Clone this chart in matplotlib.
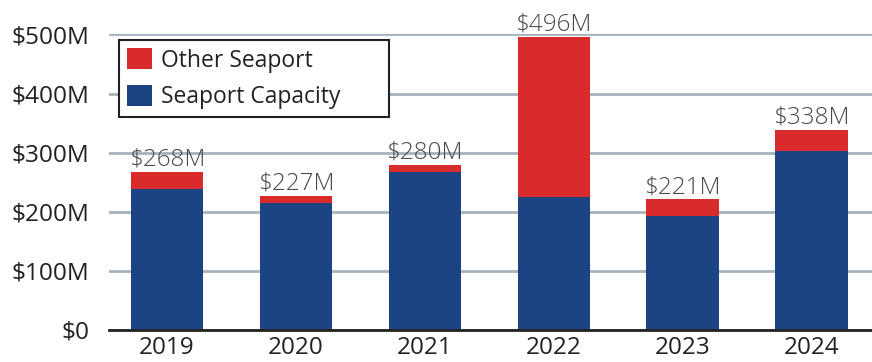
import matplotlib
matplotlib.use("Agg")
import matplotlib.pyplot as plt
from matplotlib.patches import Patch

years = ["2019", "2020", "2021", "2022", "2023", "2024"]
seaport_capacity = [239, 215, 268, 225, 193, 303]
other_seaport = [29, 12, 12, 271, 28, 35]
total_labels = ["$268M", "$227M", "$280M", "$496M", "$221M", "$338M"]
y_ticks = [0, 100, 200, 300, 400, 500]
y_tick_labels = ["$0", "$100M", "$200M", "$300M", "$400M", "$500M"]

BLUE = "#1c4483"
RED = "#d92b2b"
GRID = "#a5b3bf"

plt.rcParams['font.family'] = ['Open Sans', 'DejaVu Sans']

fig = plt.figure(figsize=(8.72, 3.62), dpi=100)
ax = fig.add_axes([0.125, 0.0884, 0.875, 0.8163])

x = list(range(len(years)))
w = 0.56
ax.bar(x, seaport_capacity, width=w, color=BLUE, zorder=3, label="Seaport Capacity")
ax.bar(x, other_seaport, width=w, bottom=seaport_capacity, color=RED, zorder=3, label="Other Seaport")

for i in x:
    top = seaport_capacity[i] + other_seaport[i]
    ax.text(i, top + 0.5, total_labels[i], ha="center", va="bottom", fontsize=17.5,
            color="#4a4a4a", fontweight="light", zorder=4)

ax.set_xlim(-0.45, 5.47)
ax.set_ylim(0, 500)
ax.set_yticks(y_ticks)
ax.set_yticklabels(y_tick_labels)
ax.set_xticks(x)
ax.set_xticklabels(years)
ax.tick_params(axis="y", length=0, pad=14, labelsize=17.6, colors="#222222")
ax.tick_params(axis="x", length=0, pad=4, labelsize=17.5, colors="#222222")
ax.yaxis.grid(True, color=GRID, linewidth=2, zorder=0)
ax.set_axisbelow(True)
for s in ["top", "right", "left"]:
    ax.spines[s].set_visible(False)
ax.spines["bottom"].set_linewidth(2)
ax.spines["bottom"].set_color("#222222")
ax.spines["bottom"].set_zorder(5)

handles = [Patch(facecolor=RED, label="Other Seaport"), Patch(facecolor=BLUE, label="Seaport Capacity")]
leg = ax.legend(handles=handles, loc="upper left", bbox_to_anchor=(0.013, 0.72, 0.354, 0.261),
                mode="expand", fontsize=16.5,
                frameon=True, fancybox=False, edgecolor="#222222", framealpha=1,
                handlelength=1.1, handleheight=1.05, handletextpad=0.4, borderpad=0.35,
                labelspacing=0.53, borderaxespad=0)
leg.get_frame().set_linewidth(1.5)
for t in leg.get_texts():
    t.set_color("#222222")

fig.savefig("out.png", dpi=100)
